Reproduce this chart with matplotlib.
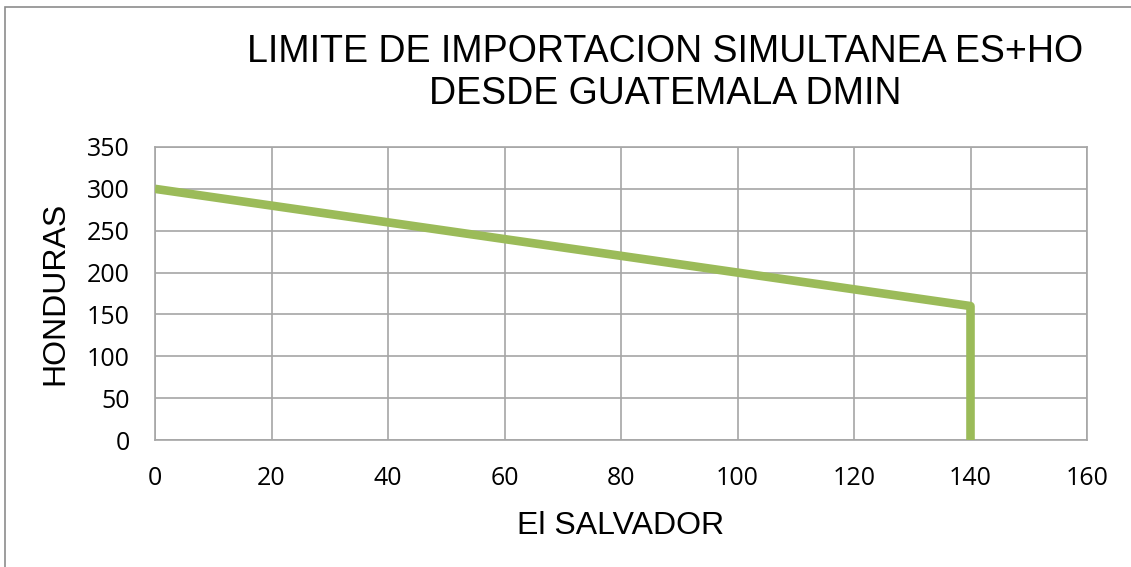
import matplotlib
matplotlib.use("Agg")
import matplotlib.pyplot as plt
from matplotlib.patches import Rectangle

# line data (El Salvador vs Honduras)
elSalvador = [0, 140, 140]
honduras = [300, 160, 0]

xTicks = [0, 20, 40, 60, 80, 100, 120, 140, 160]
yTicks = [0, 50, 100, 150, 200, 250, 300, 350]

gridColor = '#a6a6a6'

fig = plt.figure(figsize=(11.31, 5.67), dpi=100)
ax = fig.add_axes([155 / 1131, 1 - 440 / 567, (1087 - 155) / 1131, (440 - 147) / 567])

ax.plot(elSalvador, honduras, color='#9bbb59', linewidth=6.2, solid_capstyle='butt',
        solid_joinstyle='round', zorder=3)

ax.set_xlim(0, 160)
ax.set_ylim(0, 350)
ax.tick_params(length=0, labelcolor='black', labelsize=18)
ax.tick_params(axis='x', pad=19)
ax.tick_params(axis='y', pad=18)
ax.set_xticks(xTicks, [str(v) for v in xTicks])
ax.set_yticks(yTicks, [str(v) for v in yTicks])
ax.grid(True, color=gridColor, linewidth=1.2)
for s in ax.spines.values():
    s.set_color(gridColor)
    s.set_linewidth(1.2)
for lbl in ax.get_xticklabels() + ax.get_yticklabels():
    lbl.set_fontfamily(['Open Sans', 'DejaVu Sans'])

ax.set_xlabel('El SALVADOR', family='Liberation Sans', fontsize=23, labelpad=14)
ax.set_ylabel('HONDURAS', family='Liberation Sans', fontsize=23, labelpad=12)

fig.text(665 / 1131, 1 - 73 / 567, 'LIMITE DE IMPORTACION SIMULTANEA ES+HO\nDESDE GUATEMALA DMIN',
         ha='center', va='center', family='Liberation Sans', fontsize=27, linespacing=1.2)

# outer chart frame
fig.patches.append(Rectangle((5 / 1131, -0.1), 1.2, 1 - 7 / 567 + 0.1, transform=fig.transFigure,
                             fill=False, edgecolor='#8c8c8c', linewidth=1.2))

fig.savefig('out.png', dpi=100)
